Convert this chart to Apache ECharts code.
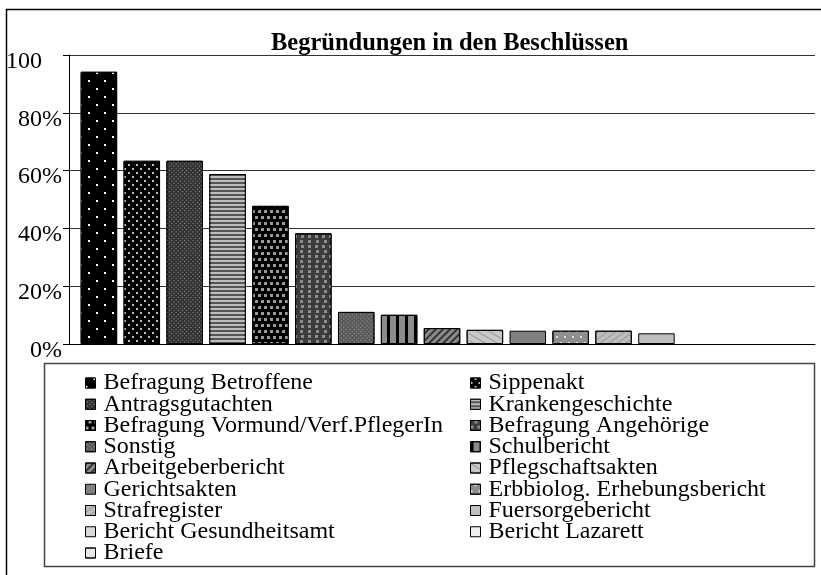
<!DOCTYPE html>
<html>
<head>
<meta charset="utf-8">
<script src="https://cdn.jsdelivr.net/npm/echarts@6/dist/echarts.min.js"></script>
<style>html,body{margin:0;padding:0;background:#fff}#c{width:821px;height:575px}</style>
</head>
<body>
<div id="c"></div>
<script>
const title = 'Begründungen in den Beschlüssen';
const categories = ['Begründungen'];
const seriesNames = [
  'Befragung Betroffene', 'Sippenakt', 'Antragsgutachten', 'Krankengeschichte',
  'Befragung Vormund/Verf.PflegerIn', 'Befragung Angehörige', 'Sonstig', 'Schulbericht',
  'Arbeitgeberbericht', 'Pflegschaftsakten', 'Gerichtsakten', 'Erbbiolog. Erhebungsbericht',
  'Strafregister', 'Fuersorgebericht', 'Bericht Gesundheitsamt', 'Bericht Lazarett', 'Briefe'
];
const seriesValues = [94.2, 63.4, 63.4, 58.8, 47.8, 38.3, 11.1, 10.1, 5.5, 4.9, 4.6, 4.6, 4.6, 3.7, 0, 0, 0];
const yTicks = [0, 20, 40, 60, 80, 100];

const FONT = '"Liberation Serif", "Times New Roman", serif';

const styles = [
  {color:'#000', decal:{symbol:'rect', symbolSize:1, color:'#fff', dashArrayX:[[2,14],[0,8,2,6]], dashArrayY:[2,6]}},
  {color:'#000', decal:{symbol:'rect', symbolSize:1, color:'#bbb', dashArrayX:[[2,6],[0,4,2,2]], dashArrayY:[2,2]}},
  {color:'#333', decal:{symbol:'rect', symbolSize:1, color:'#999', dashArrayX:[[1,2]], dashArrayY:[1,2], rotation:Math.PI/4}},
  {color:'#555', decal:{symbol:'rect', symbolSize:1, color:'#bdbdbd', dashArrayX:[[1,0]], dashArrayY:[2,2]}},
  {color:'#000', decal:{symbol:'rect', symbolSize:1, color:'#9a9a9a', dashArrayX:[[3,3],[0,3,3,0]], dashArrayY:[3,3]}},
  {color:'#3c3c3c', decal:{symbol:'rect', symbolSize:1, color:'#8c8c8c', dashArrayX:[[3,4],[0,3.5,3,0.5]], dashArrayY:[3,2]}},
  {color:'#5a5a5a', decal:{symbol:'rect', symbolSize:1, color:'#9a9a9a', dashArrayX:[[1,2]], dashArrayY:[1,2], rotation:Math.PI/4}},
  {color:'#8c8c8c', decal:{symbol:'rect', symbolSize:1, color:'#000', dashArrayX:[3,6], dashArrayY:[1,0]}},
  {color:'#8a8a8a', decal:{symbol:'rect', symbolSize:1, color:'#333', dashArrayX:[[1,0]], dashArrayY:[2,3], rotation:-Math.PI/4}},
  {color:'#c8c8c8', decal:{symbol:'rect', symbolSize:1, color:'#9a9a9a', dashArrayX:[[1,0]], dashArrayY:[1,5], rotation:Math.PI/6}},
  {color:'#808080'},
  {color:'#8e8e8e', decal:{symbol:'rect', symbolSize:1, color:'#ddd', dashArrayX:[[2,6],[0,4,2,2]], dashArrayY:[2,4]}},
  {color:'#bdbdbd', decal:{symbol:'rect', symbolSize:1, color:'#999', dashArrayX:[[1,0]], dashArrayY:[1,4], rotation:-Math.PI/5}},
  {color:'#c0c0c0'},
  {color:'#d8d8d8'},
  {color:'#eeeeee'},
  {color:'#e8e8e8', decal:{symbol:'rect', symbolSize:1, color:'#999', dashArrayX:[[1,7]], dashArrayY:[1,7]}}
];

const series = seriesNames.map((name, i) => ({
  name: name,
  type: 'bar',
  data: [seriesValues[i]],
  barWidth: 36.5,
  barGap: '17.5%',
  itemStyle: Object.assign({borderColor:'#000', borderWidth: seriesValues[i] > 0 ? 1 : 0}, styles[i]),
  emphasis: {disabled: true},
  animation: false
}));

const leftNames = seriesNames.filter((_, i) => i % 2 === 0);
const rightNames = seriesNames.filter((_, i) => i % 2 === 1);

const legendCommon = {
  orient: 'vertical',
  icon: 'rect',
  itemWidth: 10,
  itemHeight: 10,
  itemGap: -2.75,
  padding: 0,
  height: 300,
  selectedMode: false,
  textStyle: {fontFamily: FONT, fontSize: 24, color: '#000', padding:[0,0,0,3]},
  itemStyle: {borderColor:'#000', borderWidth:1}
};

const chart = echarts.init(document.getElementById('c'), null, {renderer:'canvas'});
chart.setOption({
  animation: false,
  backgroundColor: '#fff',
  title: {
    text: title,
    left: 271,
    top: 31,
    padding: 0,
    textStyle: {fontFamily: FONT, fontSize: 24.5, fontWeight: 'bold', color: '#000'}
  },
  graphic: [
    {type:'rect', silent:true, z:-1, shape:{x:6.5, y:9.5, width:900, height:700}, style:{fill:'none', stroke:'#000', lineWidth:1.5}},
    {type:'rect', silent:true, z:-1, shape:{x:44.5, y:363.5, width:770, height:203}, style:{fill:'none', stroke:'#444', lineWidth:1.5}}
  ],
  legend: [
    Object.assign({}, legendCommon, {data: leftNames, left: 85, top: 371}),
    Object.assign({}, legendCommon, {data: rightNames, left: 470, top: 371})
  ],
  grid: {left: 69, right: 6, top: 55, bottom: 231, containLabel: false},
  xAxis: {
    type: 'category',
    data: categories,
    axisLine: {show: true, lineStyle: {color: '#000', width: 1}},
    axisTick: {show: false},
    axisLabel: {show: false},
    splitLine: {show: false}
  },
  yAxis: {
    type: 'value',
    min: yTicks[0],
    max: yTicks[yTicks.length - 1],
    interval: 20,
    axisLine: {show: true, lineStyle: {color: '#000', width: 1}},
    axisTick: {show: true, length: 6, lineStyle: {color: '#000'}},
    splitLine: {show: true, lineStyle: {color: '#333', width: 1.2}},
    axisLabel: {
      margin: 7,
      fontFamily: FONT,
      fontSize: 24,
      color: '#000',
      padding: [13, 0, 0, 0],
      formatter: function (v) { return v === 100 ? '100{h|%}' : v + '%'; },
      rich: {h: {color: 'rgba(0,0,0,0)', fontFamily: FONT, fontSize: 24}}
    }
  },
  series: series
});
</script>
</body>
</html>
